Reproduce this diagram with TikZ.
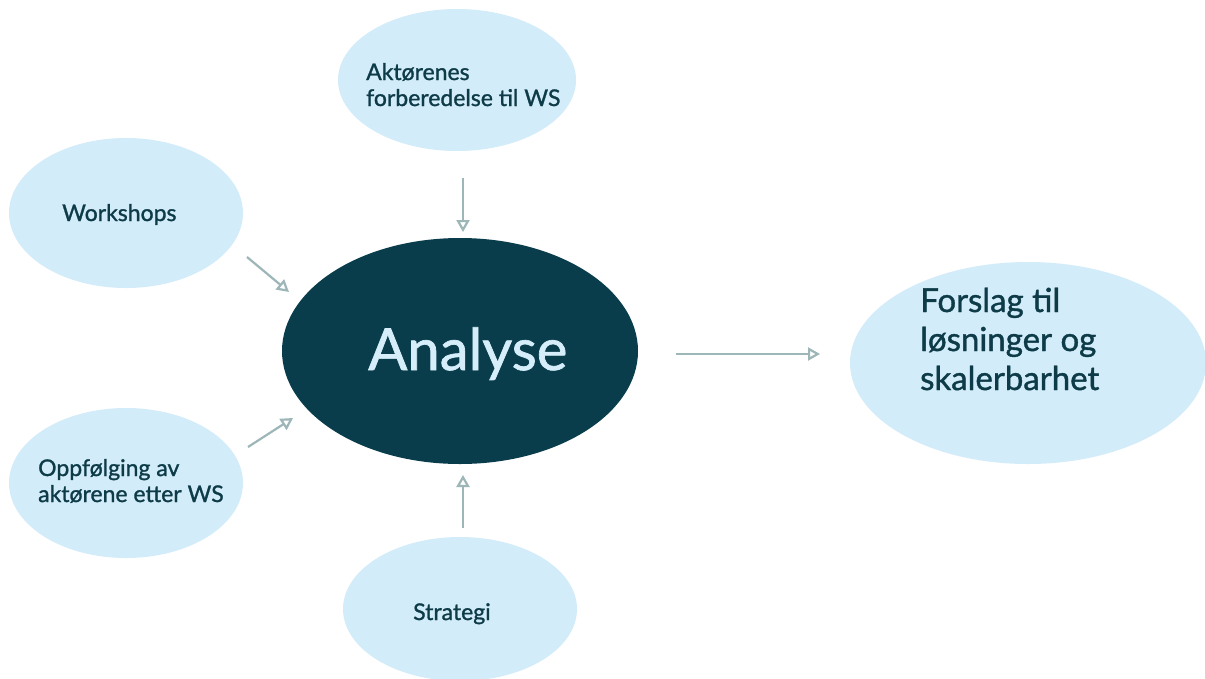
\documentclass[tikz,border=0pt]{standalone}
\usepackage{fontspec}
\setmainfont{Lato}[FakeBold=1.2]
\usetikzlibrary{shapes.geometric,arrows.meta}
\definecolor{bubble}{HTML}{D3ECF9}
\definecolor{core}{HTML}{0A3D4C}
\definecolor{ink}{HTML}{0E3B48}
\definecolor{coretext}{HTML}{D5EEF9}
\definecolor{conn}{HTML}{9DB6B8}
\tikzset{
  bub/.style={ellipse, fill=bubble, draw=none, inner sep=0pt},
  corebub/.style={ellipse, fill=core, draw=none, inner sep=0pt},
  lbl/.style={inner sep=0pt, text=ink, align=left, anchor=base west, font=\fontsize{23}{26}\selectfont},
  biglbl/.style={inner sep=0pt, text=ink, align=left, anchor=base west, font=\fontsize{33}{39}\selectfont},
  corelbl/.style={inner sep=0pt, text=coretext, anchor=base west, font=\fontsize{58}{60}\selectfont},
  link/.style={draw=conn, line width=2.2pt, -{Triangle[open, length=12pt, width=13pt, line width=2.2pt]}}
}
\begin{document}
\begin{tikzpicture}[x=1pt,y=-1pt]
\useasboundingbox[fill=white] (0,0) rectangle (1205,678);
% bubbles
\node[bub, minimum width=238pt, minimum height=142pt] (prep) at (457,80) {};
\node[bub, minimum width=234pt, minimum height=150pt] (ws) at (126,213) {};
\node[bub, minimum width=234pt, minimum height=150pt] (opp) at (126,483) {};
\node[bub, minimum width=234pt, minimum height=144pt] (strat) at (460,609) {};
\node[bub, minimum width=356pt, minimum height=202pt] (fors) at (1028,363) {};
\node[corebub, minimum width=356pt, minimum height=226pt] (ana) at (460,351) {};
% labels (anchor = baseline of last line)
\node[lbl] (prepT) at (366,106) {Aktørenes\\forberedelse til WS};
\node[lbl] (wsT) at (62,221) {Workshops};
\node[lbl] (oppT) at (38,502) {Oppfølging av\\aktørene etter WS};
\node[lbl] (stratT) at (413,620) {Strategi};
\node[biglbl] (forsT) at (920,390) {Forslag til\\løsninger og\\skalerbarhet};
\node[corelbl] (anaT) at (368,370) {Analyse};
% connector ends
\coordinate (prepOut) at (463,178);
\coordinate (anaInTop) at (463,232);
\coordinate (wsOut) at (247,257);
\coordinate (anaInWs) at (289,292);
\coordinate (oppOut) at (248,447);
\coordinate (anaInOpp) at (293,418);
\coordinate (stratOut) at (463,528);
\coordinate (anaInStrat) at (463,475);
\coordinate (anaOut) at (676,354);
\coordinate (forsIn) at (820,354);
\draw[link] (prepOut) -- (anaInTop);
\draw[link] (wsOut) -- (anaInWs);
\draw[link] (oppOut) -- (anaInOpp);
\draw[link] (stratOut) -- (anaInStrat);
\draw[link] (anaOut) -- (forsIn);
\end{tikzpicture}
\end{document}
